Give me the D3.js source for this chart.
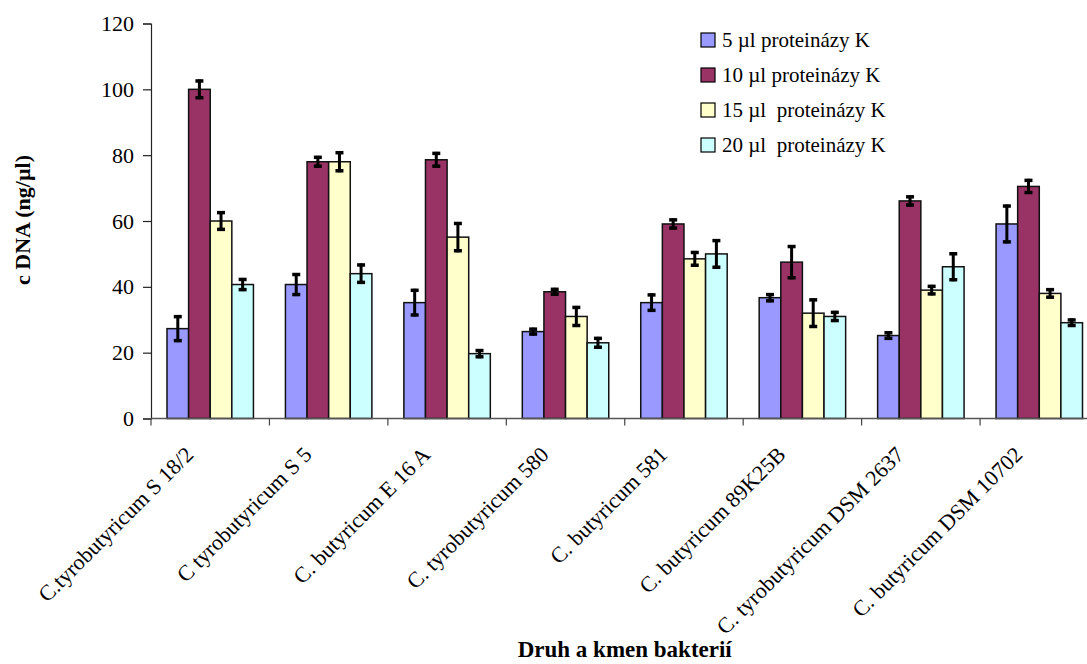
<!DOCTYPE html>
<html>
<head>
<meta charset="utf-8">
<script src="https://cdn.jsdelivr.net/npm/d3@7"></script>
<style>
  html, body { margin: 0; padding: 0; background: #fff; }
  svg { display: block; font-family: "Liberation Serif", "Times New Roman", serif; }
</style>
</head>
<body>
<svg id="chart" width="1087" height="664"></svg>
<script>
// Bacterial strains on the x axis
const categories = [
  "C.tyrobutyricum S 18/2",
  "C tyrobutyricum S 5",
  "C. butyricum E 16 A",
  "C. tyrobutyricum 580",
  "C. butyricum 581",
  "C. butyricum 89K25B",
  "C. tyrobutyricum DSM 2637",
  "C. butyricum DSM 10702"
];

// Legend labels for the proteinase K volumes
const seriesNames = [
  "5 µl proteinázy K",
  "10 µl proteinázy K",
  "15 µl  proteinázy K",
  "20 µl  proteinázy K"
];
const seriesColors = ["#9999FF", "#993366", "#FFFFCC", "#CCFFFF"];

// DNA concentration (ng/µl) per strain, one array per volume
const values5  = [27.3, 40.7, 35.2, 26.4, 35.2, 36.7, 25.2, 59.1];
const values10 = [100.0, 78.0, 78.6, 38.5, 59.1, 47.5, 66.1, 70.5];
const values15 = [60.0, 78.0, 55.1, 31.0, 48.5, 32.0, 39.0, 38.0];
const values20 = [40.7, 44.0, 19.7, 23.0, 50.0, 31.0, 46.1, 29.1];

// Error bar half-widths (ng/µl)
const err5  = [4.1, 3.5, 4.2, 1.2, 2.8, 1.4, 1.3, 5.9];
const err10 = [3.0, 1.8, 2.4, 1.2, 1.7, 5.2, 1.7, 2.3];
const err15 = [3.0, 3.2, 4.6, 3.2, 2.4, 4.5, 1.6, 1.6];
const err20 = [2.0, 3.1, 1.4, 1.8, 4.5, 1.7, 4.4, 1.3];

const yTicks = [0, 20, 40, 60, 80, 100, 120];
const yTitle = "c DNA (ng/µl)";
const xTitle = "Druh a kmen bakterií";

const allValues = [values5, values10, values15, values20];
const allErrors = [err5, err10, err15, err20];

const svg = d3.select("#chart");

const plot = { left: 151, right: 1098.5, top: 23.5, bottom: 418.5 };

const x0 = d3.scaleBand()
  .domain(categories)
  .range([plot.left, plot.right])
  .padding(0);

const x1 = d3.scaleBand()
  .domain(d3.range(seriesNames.length))
  .range([0, x0.bandwidth()])
  .paddingInner(0)
  .paddingOuter(0.74);

const y = d3.scaleLinear()
  .domain([0, 120])
  .range([plot.bottom, plot.top]);

// Flatten into one record per bar
const bars = [];
categories.forEach((c, i) => {
  allValues.forEach((vals, s) => {
    bars.push({ cat: c, s: s, v: vals[i], e: allErrors[s][i] });
  });
});

// Bars
svg.append("g")
  .selectAll("rect")
  .data(bars)
  .join("rect")
  .attr("x", d => x0(d.cat) + x1(d.s))
  .attr("y", d => y(d.v))
  .attr("width", x1.bandwidth())
  .attr("height", d => y(0) - y(d.v))
  .attr("fill", d => seriesColors[d.s])
  .attr("stroke", "#111")
  .attr("stroke-width", 1.5);

// Error bars
const eg = svg.append("g").attr("stroke", "#000");
const cx = d => x0(d.cat) + x1(d.s) + x1.bandwidth() / 2;
eg.selectAll("line.stem")
  .data(bars)
  .join("line")
  .attr("class", "stem")
  .attr("x1", cx).attr("x2", cx)
  .attr("y1", d => y(d.v + d.e))
  .attr("y2", d => y(d.v - d.e))
  .attr("stroke-width", 3);
eg.selectAll("line.capTop")
  .data(bars)
  .join("line")
  .attr("class", "capTop")
  .attr("x1", d => cx(d) - 4).attr("x2", d => cx(d) + 4)
  .attr("y1", d => y(d.v + d.e) + 1.5)
  .attr("y2", d => y(d.v + d.e) + 1.5)
  .attr("stroke-width", 3.5);
eg.selectAll("line.capBot")
  .data(bars)
  .join("line")
  .attr("class", "capBot")
  .attr("x1", d => cx(d) - 4).attr("x2", d => cx(d) + 4)
  .attr("y1", d => y(d.v - d.e) - 1.5)
  .attr("y2", d => y(d.v - d.e) - 1.5)
  .attr("stroke-width", 3.5);

// Y axis
const yAxis = svg.append("g")
  .attr("transform", `translate(${plot.left},0)`)
  .call(d3.axisLeft(y).tickValues(yTicks).tickSize(8).tickPadding(9).tickFormat(d3.format("d")));
yAxis.select(".domain").attr("stroke", "#222").attr("stroke-width", 1.2);
yAxis.selectAll(".tick line").attr("stroke", "#222").attr("stroke-width", 1.2);
yAxis.selectAll(".tick text")
  .attr("font-family", "Liberation Serif, serif")
  .attr("font-size", 22)
  .attr("fill", "#000");

// X axis: baseline with boundary ticks between categories
const xg = svg.append("g");
xg.append("line")
  .attr("x1", plot.left).attr("x2", plot.right)
  .attr("y1", y(0)).attr("y2", y(0))
  .attr("stroke", "#555").attr("stroke-width", 1.5);
const bounds = categories.map(c => x0(c)).concat([x0(categories[categories.length - 1]) + x0.bandwidth()]);
xg.selectAll("line.xtick")
  .data(bounds)
  .join("line")
  .attr("class", "xtick")
  .attr("x1", d => d).attr("x2", d => d)
  .attr("y1", y(0)).attr("y2", y(0) + 7)
  .attr("stroke", "#444").attr("stroke-width", 1.2);

// Rotated category labels
xg.selectAll("text.cat")
  .data(categories)
  .join("text")
  .attr("class", "cat")
  .attr("transform", d => `translate(${x0(d) + x0.bandwidth() / 2 - 21},${y(0) + 32}) rotate(-45)`)
  .attr("text-anchor", "end")
  .attr("dy", "0.35em")
  .attr("font-size", 22)
  .attr("fill", "#000")
  .text(d => d);

// Axis titles
svg.append("text")
  .attr("transform", `translate(30,220) rotate(-90)`)
  .attr("text-anchor", "middle")
  .attr("font-size", 22)
  .attr("font-weight", "bold")
  .text(yTitle);

svg.append("text")
  .attr("x", (plot.left + plot.right) / 2)
  .attr("y", 657)
  .attr("text-anchor", "middle")
  .attr("font-size", 23)
  .attr("font-weight", "bold")
  .text(xTitle);

// Legend
const legend = svg.append("g").attr("transform", "translate(701,40)");
const items = legend.selectAll("g")
  .data(seriesNames)
  .join("g")
  .attr("transform", (d, i) => `translate(0,${i * 35})`);
items.append("rect")
  .attr("x", 0).attr("y", -7)
  .attr("width", 14).attr("height", 14)
  .attr("fill", (d, i) => seriesColors[i])
  .attr("stroke", "#000")
  .attr("stroke-width", 1.2);
items.append("text")
  .attr("x", 21)
  .attr("dy", "0.35em")
  .attr("font-size", 21)
  .attr("xml:space", "preserve")
  .style("white-space", "pre")
  .text(d => d);
</script>
</body>
</html>
